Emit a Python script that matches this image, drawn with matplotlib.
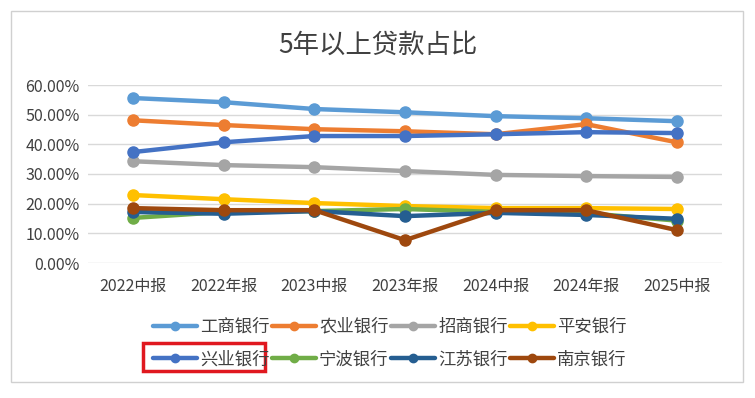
import matplotlib
matplotlib.use('Agg')
import matplotlib.pyplot as plt
from matplotlib.patches import Rectangle
from matplotlib.ticker import FuncFormatter

plt.rcParams['font.family'] = ['Noto Sans CJK SC', 'DejaVu Sans']

# 数据
periods = ['2022中报', '2022年报', '2023中报', '2023年报', '2024中报', '2024年报', '2025中报']
banks = ['工商银行', '农业银行', '招商银行', '平安银行', '兴业银行', '宁波银行', '江苏银行', '南京银行']
gongshang = [55.6, 54.2, 51.9, 50.8, 49.5, 48.8, 47.8]
nongye = [48.1, 46.5, 45.1, 44.4, 43.4, 46.8, 40.7]
zhaoshang = [34.3, 33.0, 32.3, 31.0, 29.7, 29.3, 29.0]
pingan = [22.9, 21.5, 20.2, 19.2, 18.5, 18.5, 18.2]
xingye = [37.4, 40.7, 42.8, 42.8, 43.4, 44.1, 43.8]
ningbo = [15.2, 17.2, 17.5, 18.2, 17.2, 16.8, 14.3]
jiangsu = [17.2, 16.6, 17.5, 15.8, 16.9, 16.2, 14.9]
nanjing = [18.5, 17.8, 17.8, 7.7, 17.8, 17.8, 11.1]
series = [gongshang, nongye, zhaoshang, pingan, xingye, ningbo, jiangsu, nanjing]
colors = ['#5B9BD5', '#ED7D31', '#A5A5A5', '#FFC000', '#4472C4', '#70AD47', '#255E91', '#9E480E']

fig = plt.figure(figsize=(7.55, 3.98), dpi=100)
ax = fig.add_axes([88/755, 1-263/398, (722-88)/755, (263-85)/398])

x = list(range(len(periods)))
lines = []
for name, vals, c in zip(banks, series, colors):
    ln, = ax.plot(x, [v/100 for v in vals], color=c, lw=3.2, marker='o', ms=8,
                  label=name, solid_capstyle='round')
    lines.append(ln)

ax.set_xlim(-0.5, 6.5)
ax.set_ylim(0, 0.6)
ax.set_yticks([0, 0.1, 0.2, 0.3, 0.4, 0.5, 0.6])
ax.yaxis.set_major_formatter(FuncFormatter(lambda v, p: '%.2f%%' % (v*100)))
ax.set_xticks(x)
ax.set_xticklabels(periods)
ax.grid(axis='y', color='#D9D9D9', lw=1)
ax.set_axisbelow(True)
for s in ax.spines.values():
    s.set_visible(False)
ax.tick_params(length=0, labelsize=11.5, colors='#404040')
ax.tick_params(axis='x', pad=11)
ax.tick_params(axis='y', pad=6)

fig.text(0.5, 1-45/398, '5年以上贷款占比', ha='center', va='center', fontsize=19, color='#404040')

# 图例按行排列
order = [0, 4, 1, 5, 2, 6, 3, 7]
leg = fig.legend(handles=[lines[i] for i in order], loc='center', ncol=4,
                 bbox_to_anchor=(390/755, 1-343/398),
                 frameon=False, fontsize=12.5, handlelength=2.5, columnspacing=0.15,
                 handletextpad=0.2, labelspacing=0.83, labelcolor='#404040')
for h in leg.legend_handles:
    h.set_markersize(6)

# 外框
fig.add_artist(Rectangle((11/755, 1-382/398), (743-11)/755, (382-11)/398,
                         transform=fig.transFigure, fill=False, ec='#D0D0D0', lw=1))
# 红框
fig.add_artist(Rectangle((143/755, 1-371/398), (265-143)/755, (371-343)/398,
                         transform=fig.transFigure, fill=False, ec='#E0181F', lw=2.5))

fig.savefig('out.png', dpi=100, facecolor='white')
